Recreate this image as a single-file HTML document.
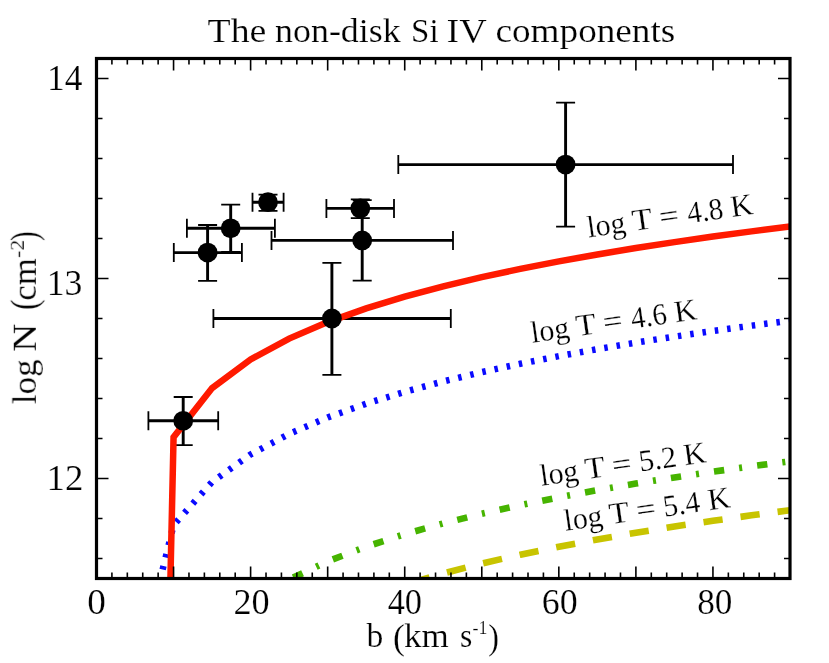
<!DOCTYPE html>
<html><head><meta charset="utf-8"><title>The non-disk Si IV components</title>
<style>
html,body{margin:0;padding:0;background:#fff;}
svg{display:block;}
text{font-family:"Liberation Serif",serif;fill:#000;stroke:#fff;stroke-width:0.2px;paint-order:fill stroke;}
</style></head><body>
<svg width="829" height="663" viewBox="0 0 829 663">
<rect width="829" height="663" fill="#fff"/>
<defs><clipPath id="c"><rect x="96.5" y="58.5" width="693.5" height="520.0"/></clipPath></defs>
<path d="M148.4 420.8H218.2M183.2 397.0V445.1M173.8 252.6H241.9M207.6 225.0V280.8M186.9 228.3H274.9M230.7 204.7V251.9M252.5 202.2H283.6M268.0 194.7V210.9M326.4 208.4H394.0M360.3 199.3V218.2M271.5 240.4H453.0M362.2 200.1V280.7M213.4 318.5H450.8M331.9 262.8V374.9M398.3 164.6H733.0M565.6 102.6V226.6" stroke="#000" stroke-width="2.9" fill="none"/>
<path d="M148.4 411.3v19.0M218.2 411.3v19.0M173.7 397.0h19.0M173.7 445.1h19.0M173.8 243.1v19.0M241.9 243.1v19.0M198.1 225.0h19.0M198.1 280.8h19.0M186.9 218.8v19.0M274.9 218.8v19.0M221.2 204.7h19.0M221.2 251.9h19.0M252.5 192.7v19.0M283.6 192.7v19.0M258.5 194.7h19.0M258.5 210.9h19.0M326.4 198.9v19.0M394.0 198.9v19.0M350.8 199.3h19.0M350.8 218.2h19.0M271.5 230.9v19.0M453.0 230.9v19.0M352.7 200.1h19.0M352.7 280.7h19.0M213.4 309.0v19.0M450.8 309.0v19.0M322.4 262.8h19.0M322.4 374.9h19.0M398.3 155.1v19.0M733.0 155.1v19.0M556.1 102.6h19.0M556.1 226.6h19.0" stroke="#000" stroke-width="1.8" fill="none"/>
<g clip-path="url(#c)" fill="none" stroke-linejoin="miter">
<polyline points="158.80,585.00 173.56,525.15 212.08,481.94 250.61,454.43 289.14,433.92 327.67,417.46 366.19,403.70 404.72,391.85 443.25,381.44 481.78,372.16 520.31,363.78 558.83,356.15 597.36,349.13 635.89,342.64 674.42,336.61 712.94,330.96 751.47,325.67 790.00,320.67" stroke="#0a0aff" stroke-width="6.5" stroke-dasharray="3.50 8.93" stroke-dashoffset="-3.56"/>
<polyline points="289.14,579.53 327.67,561.40 366.19,546.66 404.72,534.18 443.25,523.35 481.78,513.75 520.31,505.14 558.83,497.33 597.36,490.17 635.89,483.56 674.42,477.42 712.94,471.70 751.47,466.33 790.00,461.28" stroke="#46b400" stroke-width="6.6" stroke-dasharray="10.30 15.08 3.00 15.18" stroke-dashoffset="-4.54"/>
<polyline points="404.72,584.68 443.25,573.41 481.78,563.53 520.31,554.70 558.83,546.73 597.36,539.45 635.89,532.75 674.42,526.54 712.94,520.76 751.47,515.34 790.00,510.25" stroke="#c8c400" stroke-width="6.6" stroke-dasharray="19.30 18.07" stroke-dashoffset="-6.60"/>
<polyline points="170.30,585.00 173.56,437.22 212.08,388.11 250.61,359.44 289.14,338.61 327.67,322.11 366.19,308.39 404.72,296.63 443.25,286.33 481.78,277.16 520.31,268.89 558.83,261.37 597.36,254.45 635.89,248.07 674.42,242.13 712.94,236.58 751.47,231.37 790.00,226.46" stroke="#ff1a00" stroke-width="6.5"/>
</g>
<circle cx="183.2" cy="420.8" r="9.9" fill="#000"/>
<circle cx="207.6" cy="252.6" r="9.9" fill="#000"/>
<circle cx="230.7" cy="228.3" r="9.9" fill="#000"/>
<circle cx="268.0" cy="202.2" r="9.9" fill="#000"/>
<circle cx="360.3" cy="208.4" r="9.9" fill="#000"/>
<circle cx="362.2" cy="240.4" r="9.9" fill="#000"/>
<circle cx="331.9" cy="318.5" r="9.9" fill="#000"/>
<circle cx="565.6" cy="164.6" r="9.9" fill="#000"/>
<path d="M96.50 578.5v-12M96.50 58.5v12M111.91 578.5v-6M111.91 58.5v6M127.32 578.5v-6M127.32 58.5v6M142.73 578.5v-6M142.73 58.5v6M158.14 578.5v-6M158.14 58.5v6M173.56 578.5v-12M173.56 58.5v12M188.97 578.5v-6M188.97 58.5v6M204.38 578.5v-6M204.38 58.5v6M219.79 578.5v-6M219.79 58.5v6M235.20 578.5v-6M235.20 58.5v6M250.61 578.5v-12M250.61 58.5v12M266.02 578.5v-6M266.02 58.5v6M281.43 578.5v-6M281.43 58.5v6M296.84 578.5v-6M296.84 58.5v6M312.26 578.5v-6M312.26 58.5v6M327.67 578.5v-12M327.67 58.5v12M343.08 578.5v-6M343.08 58.5v6M358.49 578.5v-6M358.49 58.5v6M373.90 578.5v-6M373.90 58.5v6M389.31 578.5v-6M389.31 58.5v6M404.72 578.5v-12M404.72 58.5v12M420.13 578.5v-6M420.13 58.5v6M435.54 578.5v-6M435.54 58.5v6M450.96 578.5v-6M450.96 58.5v6M466.37 578.5v-6M466.37 58.5v6M481.78 578.5v-12M481.78 58.5v12M497.19 578.5v-6M497.19 58.5v6M512.60 578.5v-6M512.60 58.5v6M528.01 578.5v-6M528.01 58.5v6M543.42 578.5v-6M543.42 58.5v6M558.83 578.5v-12M558.83 58.5v12M574.24 578.5v-6M574.24 58.5v6M589.66 578.5v-6M589.66 58.5v6M605.07 578.5v-6M605.07 58.5v6M620.48 578.5v-6M620.48 58.5v6M635.89 578.5v-12M635.89 58.5v12M651.30 578.5v-6M651.30 58.5v6M666.71 578.5v-6M666.71 58.5v6M682.12 578.5v-6M682.12 58.5v6M697.53 578.5v-6M697.53 58.5v6M712.94 578.5v-12M712.94 58.5v12M728.36 578.5v-6M728.36 58.5v6M743.77 578.5v-6M743.77 58.5v6M759.18 578.5v-6M759.18 58.5v6M774.59 578.5v-6M774.59 58.5v6M790.00 578.5v-12M790.00 58.5v12M96.5 558.50h6M790.0 558.50h-6M96.5 518.50h6M790.0 518.50h-6M96.5 478.50h12M790.0 478.50h-12M96.5 438.50h6M790.0 438.50h-6M96.5 398.50h6M790.0 398.50h-6M96.5 358.50h6M790.0 358.50h-6M96.5 318.50h6M790.0 318.50h-6M96.5 278.50h12M790.0 278.50h-12M96.5 238.50h6M790.0 238.50h-6M96.5 198.50h6M790.0 198.50h-6M96.5 158.50h6M790.0 158.50h-6M96.5 118.50h6M790.0 118.50h-6M96.5 78.50h12M790.0 78.50h-12" stroke="#000" stroke-width="1.6" fill="none"/>
<rect x="96.5" y="58.5" width="693.5" height="520.0" fill="none" stroke="#000" stroke-width="3.2"/>
<g style="opacity:0.999">
<text x="207.6" y="42.4" font-size="34.5" textLength="58.8" lengthAdjust="spacingAndGlyphs" >The</text>
<text x="275.1" y="42.4" font-size="34.5" textLength="125.6" lengthAdjust="spacingAndGlyphs" >non-disk</text>
<text x="411.1" y="42.4" font-size="34.5" textLength="27.5" lengthAdjust="spacingAndGlyphs" >Si</text>
<text x="446.5" y="42.4" font-size="34.5" textLength="40.2" lengthAdjust="spacingAndGlyphs" >IV</text>
<text x="495.5" y="42.4" font-size="34.5" textLength="179.8" lengthAdjust="spacingAndGlyphs" >components</text>
<text x="47.1" y="89.8" font-size="35" textLength="35.4" lengthAdjust="spacingAndGlyphs" >14</text>
<text x="46.7" y="295.0" font-size="35" textLength="35.7" lengthAdjust="spacingAndGlyphs" >13</text>
<text x="46.6" y="490.0" font-size="35" textLength="36.8" lengthAdjust="spacingAndGlyphs" >12</text>
<text x="87.3" y="614.3" font-size="35" textLength="18.6" lengthAdjust="spacingAndGlyphs" >0</text>
<text x="233.5" y="614.3" font-size="35" textLength="36.2" lengthAdjust="spacingAndGlyphs" >20</text>
<text x="387.7" y="614.3" font-size="35" textLength="34.3" lengthAdjust="spacingAndGlyphs" >40</text>
<text x="541.8" y="614.3" font-size="35" textLength="35.9" lengthAdjust="spacingAndGlyphs" >60</text>
<text x="697.2" y="614.3" font-size="35" textLength="35.2" lengthAdjust="spacingAndGlyphs" >80</text>
<text x="366.4" y="647.4" font-size="34.5" textLength="16.8" lengthAdjust="spacingAndGlyphs" >b</text>
<text x="393.1" y="648.5" font-size="36.4" textLength="11.9" lengthAdjust="spacingAndGlyphs" >(</text>
<text x="404.0" y="647.4" font-size="34.5" textLength="44.8" lengthAdjust="spacingAndGlyphs" >km</text>
<text x="459.9" y="647.4" font-size="34.5" textLength="12.3" lengthAdjust="spacingAndGlyphs" >s</text>
<text x="472.5" y="633.8" font-size="19.5" textLength="14.9" lengthAdjust="spacingAndGlyphs" >-1</text>
<text x="488.3" y="648.5" font-size="36.4" textLength="10.7" lengthAdjust="spacingAndGlyphs" >)</text>
<g transform="translate(35.8,403.9) rotate(-90)"><text x="-0.2" y="0.0" font-size="34.5" textLength="44.8" lengthAdjust="spacingAndGlyphs" >log</text>
<text x="51.9" y="0.0" font-size="34.5" textLength="28.3" lengthAdjust="spacingAndGlyphs" >N</text>
<text x="94.0" y="1.2" font-size="37.5" textLength="10.4" lengthAdjust="spacingAndGlyphs" >(</text>
<text x="103.3" y="0.0" font-size="34.5" textLength="42.3" lengthAdjust="spacingAndGlyphs" >cm</text>
<text x="146.1" y="-11.7" font-size="19.5" textLength="18.2" lengthAdjust="spacingAndGlyphs" >-2</text>
<text x="163.0" y="1.2" font-size="37.5" textLength="9.5" lengthAdjust="spacingAndGlyphs" >)</text>
</g>
<g transform="translate(589.0,237.4) rotate(-8.1)"><text x="-0.5" y="0.0" font-size="30.6" textLength="38.5" lengthAdjust="spacingAndGlyphs" >log</text>
<text x="44.9" y="0.0" font-size="30.6" textLength="20.3" lengthAdjust="spacingAndGlyphs" >T</text>
<text x="72.2" y="0.0" font-size="30.6" textLength="19.7" lengthAdjust="spacingAndGlyphs" >=</text>
<text x="100.6" y="0.0" font-size="30.6" textLength="36.2" lengthAdjust="spacingAndGlyphs" >4.8</text>
<text x="144.5" y="0.0" font-size="30.6" textLength="22.3" lengthAdjust="spacingAndGlyphs" >K</text>
</g>
<g transform="translate(532.7,342.6) rotate(-8.1)"><text x="-0.5" y="0.0" font-size="30.6" textLength="38.5" lengthAdjust="spacingAndGlyphs" >log</text>
<text x="44.9" y="0.0" font-size="30.6" textLength="20.3" lengthAdjust="spacingAndGlyphs" >T</text>
<text x="72.2" y="0.0" font-size="30.6" textLength="19.7" lengthAdjust="spacingAndGlyphs" >=</text>
<text x="100.6" y="0.0" font-size="30.6" textLength="36.0" lengthAdjust="spacingAndGlyphs" >4.6</text>
<text x="144.5" y="0.0" font-size="30.6" textLength="22.3" lengthAdjust="spacingAndGlyphs" >K</text>
</g>
<g transform="translate(541.9,485.6) rotate(-8.1)"><text x="-0.5" y="0.0" font-size="30.6" textLength="38.5" lengthAdjust="spacingAndGlyphs" >log</text>
<text x="44.9" y="0.0" font-size="30.6" textLength="20.3" lengthAdjust="spacingAndGlyphs" >T</text>
<text x="72.2" y="0.0" font-size="30.6" textLength="19.7" lengthAdjust="spacingAndGlyphs" >=</text>
<text x="99.4" y="0.0" font-size="30.6" textLength="38.0" lengthAdjust="spacingAndGlyphs" >5.2</text>
<text x="144.5" y="0.0" font-size="30.6" textLength="22.3" lengthAdjust="spacingAndGlyphs" >K</text>
</g>
<g transform="translate(566.1,530.7) rotate(-8.1)"><text x="-0.5" y="0.0" font-size="30.6" textLength="38.5" lengthAdjust="spacingAndGlyphs" >log</text>
<text x="44.9" y="0.0" font-size="30.6" textLength="20.3" lengthAdjust="spacingAndGlyphs" >T</text>
<text x="72.2" y="0.0" font-size="30.6" textLength="19.7" lengthAdjust="spacingAndGlyphs" >=</text>
<text x="99.4" y="0.0" font-size="30.6" textLength="37.0" lengthAdjust="spacingAndGlyphs" >5.4</text>
<text x="144.5" y="0.0" font-size="30.6" textLength="22.3" lengthAdjust="spacingAndGlyphs" >K</text>
</g>
</g>
</svg>
</body></html>
